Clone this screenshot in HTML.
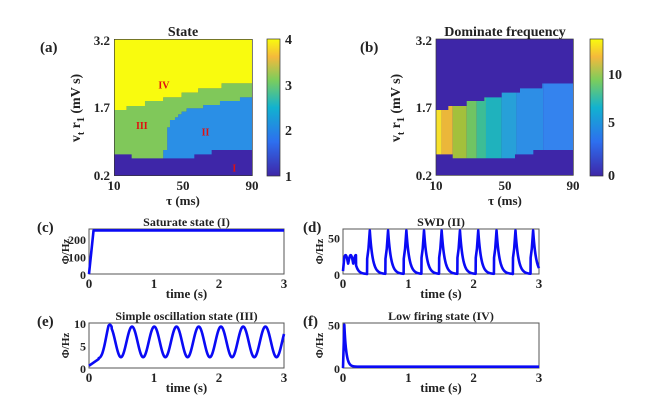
<!DOCTYPE html><html><head><style>body{margin:0;background:#fff}svg{display:block}text{font-family:"Liberation Serif",serif;font-weight:bold;fill:#222}</style></head><body>
<svg id="s" width="670" height="406" viewBox="0 0 670 406" xmlns="http://www.w3.org/2000/svg">
<defs>
<linearGradient id="cb1" x1="0" y1="1" x2="0" y2="0"><stop offset="0" stop-color="#3e26a8"/><stop offset="0.25" stop-color="#2d6fef"/><stop offset="0.5" stop-color="#12b2cf"/><stop offset="0.7" stop-color="#7ccd5c"/><stop offset="0.87" stop-color="#f5b93c"/><stop offset="1" stop-color="#f9fb0e"/></linearGradient>
<clipPath id="cp"><polygon points="198,270 235,270 235,258 290,258 290,243 343,243 343,232 395,232 395,218 450,218 450,205 517,205 517,190 610,190 610,390 490,390 490,403 435,403 435,415 248,415 248,403 198,403"/></clipPath>
</defs>
<g transform="translate(60,20) scale(0.3333)">
<rect x="163" y="58" width="414" height="409" fill="#3e26a8"/>
<polygon fill="#f9fb0e" points="163,58 577,58 577,190 485,190 485,205 415,205 415,218 365,218 365,232 310,232 310,243 255,243 255,258 200,258 200,270 163,270"/>
<polygon fill="#80c85a" points="163,270 200,270 200,258 255,258 255,243 310,243 310,232 365,232 365,218 415,218 415,205 485,205 485,190 577,190 577,232 540,232 540,243 480,243 480,255 430,255 430,265 380,265 380,275 365,275 365,283 355,283 355,292 345,292 345,300 330,300 330,322 322,322 322,390 310,390 310,415 215,415 215,403 163,403"/>
<polygon fill="#2a8fe6" points="577,232 540,232 540,243 480,243 480,255 430,255 430,265 380,265 380,275 365,275 365,283 355,283 355,292 345,292 345,300 330,300 330,322 322,322 322,390 310,390 310,415 403,415 403,403 455,403 455,390 577,390"/>
<rect x="163" y="58" width="414" height="409" fill="none" stroke="#333" stroke-width="2"/>
<text x="295" y="205" font-size="30" style="fill:#e01010">IV</text>
<text x="228" y="327" font-size="30" style="fill:#e01010">III</text>
<text x="425" y="347" font-size="30" style="fill:#e01010">II</text>
<text x="517" y="455" font-size="30" style="fill:#e01010">I</text>
</g>
<rect x="267" y="39" width="13" height="137" fill="url(#cb1)" stroke="#333" stroke-width="0.7"/>
<g font-size="14"><text x="285" y="44">4</text><text x="285" y="90">3</text><text x="285" y="135">2</text><text x="285" y="181">1</text></g>
<g font-size="13" text-anchor="end"><text x="110" y="45">3.2</text><text x="110" y="112">1.7</text><text x="110" y="180">0.2</text></g>
<g font-size="13" text-anchor="middle"><text x="114" y="190">10</text><text x="183" y="190">50</text><text x="252" y="190">90</text><text x="183" y="205">τ (ms)</text><text x="183" y="36" font-size="14">State</text></g>
<text transform="translate(80,108) rotate(-90)" font-size="14" text-anchor="middle">v<tspan font-size="10" dy="4">t</tspan><tspan dy="-4"> </tspan>r<tspan font-size="10" dy="4">1</tspan><tspan dy="-4"> (mV s)</tspan></text>
<text x="40" y="52" font-size="15">(a)</text>
<g transform="translate(370,20) scale(0.3333)">
<rect x="198" y="57" width="412" height="409" fill="#3e26a8"/>
<g clip-path="url(#cp)">
<rect x="198" y="150" width="17" height="300" fill="#f7e12c"/>
<rect x="215" y="150" width="33" height="300" fill="#ebb73a"/>
<rect x="248" y="150" width="42" height="300" fill="#a3c03c"/>
<rect x="290" y="150" width="30" height="300" fill="#70c463"/>
<rect x="320" y="150" width="28" height="300" fill="#3dbd95"/>
<rect x="348" y="150" width="47" height="300" fill="#1fb2bd"/>
<rect x="395" y="150" width="45" height="300" fill="#27a0d8"/>
<rect x="440" y="150" width="80" height="300" fill="#2d8ee6"/>
<rect x="520" y="150" width="90" height="300" fill="#3483ee"/>
</g>
<rect x="198" y="57" width="412" height="409" fill="none" stroke="#333" stroke-width="2"/>
</g>
<rect x="590" y="39" width="13" height="137" fill="url(#cb1)" stroke="#333" stroke-width="0.7"/>
<g font-size="14"><text x="608" y="79">10</text><text x="608" y="127">5</text><text x="608" y="180">0</text></g>
<g font-size="13" text-anchor="end"><text x="432" y="45">3.2</text><text x="432" y="112">1.7</text><text x="432" y="180">0.2</text></g>
<g font-size="13" text-anchor="middle"><text x="436" y="190">10</text><text x="505" y="190">50</text><text x="573" y="190">90</text><text x="505" y="205">τ (ms)</text><text x="505" y="36" font-size="14">Dominate frequency</text></g>
<text transform="translate(400,108) rotate(-90)" font-size="14" text-anchor="middle">v<tspan font-size="10" dy="4">t</tspan><tspan dy="-4"> </tspan>r<tspan font-size="10" dy="4">1</tspan><tspan dy="-4"> (mV s)</tspan></text>
<text x="360" y="52" font-size="15">(b)</text>
<g id="lines"></g>
</svg>
<script>
const NS="http://www.w3.org/2000/svg",L=document.getElementById("lines");
function el(t,a,txt){const e=document.createElementNS(NS,t);for(const k in a)e.setAttribute(k,a[k]);if(txt!=null)e.textContent=txt;L.appendChild(e);return e;}
function panel(x0,x1,y0,y1,ymax,ticks,f,title,lab,lx){
 el("rect",{x:x0,y:y0,width:x1-x0,height:y1-y0,fill:"none",stroke:"#555","stroke-width":1});
 let d="";for(let i=0;i<=1500;i++){const t=i*3/1500;let v=f(t);const X=x0+t/3*(x1-x0),Y=y1-v/ymax*(y1-y0);d+=(i?"L":"M")+X.toFixed(2)+","+Y.toFixed(2);}
 el("path",{d:d,fill:"none",stroke:"#0a0af5","stroke-width":2.6,"stroke-linejoin":"round"});
 for(const tk of ticks){const Y=y1-tk/ymax*(y1-y0);el("text",{x:x0-3,y:Y+5,"font-size":12,"text-anchor":"end"},tk);}
 for(let k=0;k<=3;k++){const X=x0+k/3*(x1-x0);el("text",{x:X,y:y1+14,"font-size":13,"text-anchor":"middle"},k);}
 el("text",{x:(x0+x1)/2,y:y1+24,"font-size":13,"text-anchor":"middle"},"time (s)");
 el("text",{x:(x0+x1)/2,y:y0-3,"font-size":12,"text-anchor":"middle"},title);
 el("text",{x:lx,y:y0+3,"font-size":15},lab);
 el("text",{transform:`translate(${x0-20},${(y0+y1)/2}) rotate(-90)`,"font-size":11,"text-anchor":"middle"},"Φ/Hz");
}
panel(89,284,229,274,258,[0,100,200],t=>Math.min(250,t/0.07*250),"Saturate state (I)","(c)",37);
const pk=[0.41,0.69,0.97,1.24,1.51,1.79,2.07,2.35,2.64,2.91];
panel(343,539,229,274,62,[0,50],t=>{
 if(t<0.2){return 14+12*Math.abs(Math.sin(t*40))+ (t<0.02?-10+t*500:0);}
 let v=0;for(const p of pk){const dt=t-p;
  if(dt>-0.04&&dt<0){v=Math.max(v,dt>-0.02?35+25*(1+dt/0.02):35*(1+(dt+0.02)/0.02*0.4));}
  else if(dt>=0&&dt<0.25){v=Math.max(v,60*Math.exp(-dt/0.045));}}
 if(t<0.36)v=Math.max(v,12*Math.exp(-(t-0.2)/0.04));
 return v;},"SWD (II)","(d)",303);
panel(89,284,323,368,10,[0,5,10],t=>{
 if(t<0.15)return 0.5+10*t;
 const a=Math.min(1,(t-0.1)/0.2);const base=5.8+(t<0.35?0.4:0);
 return (1-a)*2+a*(base+3.4*Math.sin(2*Math.PI*(t-0.32)/0.342+Math.PI/2));},"Simple oscillation state (III)","(e)",37);
panel(343,539,323,368,52,[0,50],t=>t<0.02?t/0.02*50:1.5+48.5*Math.exp(-(t-0.02)/0.03),"Low firing state (IV)","(f)",303);
</script>
</body></html>
